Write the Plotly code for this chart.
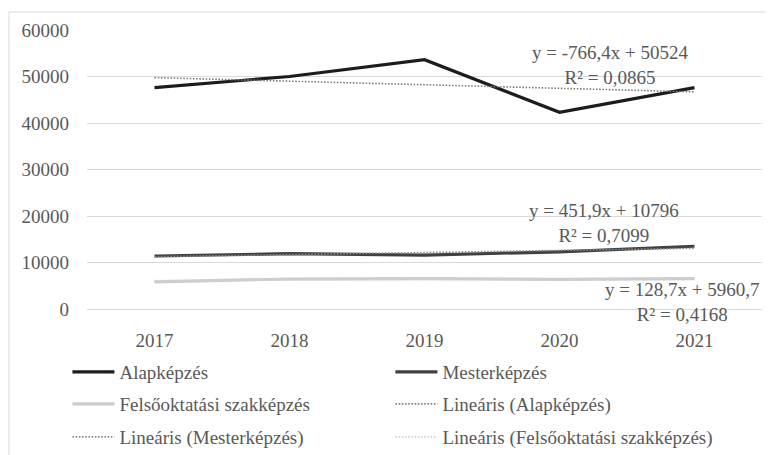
import plotly.graph_objects as go

years = ["2017", "2018", "2019", "2020", "2021"]
alap = [47600, 50000, 53600, 42300, 47600]
mester = [11400, 11900, 11600, 12300, 13500]
felso = [5850, 6450, 6550, 6350, 6550]

# Excel linear trend coefficients (as displayed on the chart)
trend_slope = [-766.4, 451.9, 128.7]
trend_icpt = [50524, 10796, 5960.7]
trend_r2 = ["0,0865", "0,7099", "0,4168"]
trend_eq = ["y = -766,4x + 50524", "y = 451,9x + 10796", "y = 128,7x + 5960,7"]

names = ["Alapképzés", "Mesterképzés", "Felsőoktatási szakképzés"]
series = [alap, mester, felso]
colors = ["#1c1c1c", "#404040", "#cccccc"]
trend_colors = ["#808080", "#8c8c8c", "#d0d0d0"]

FONT = "Liberation Serif"
TXT = "#595959"
FS = 19

fig = go.Figure()
idx = list(range(1, len(years) + 1))

data_leg = ["legend", "legend", "legend2"]
trend_leg = ["legend2", "legend3", "legend3"]

for i in range(3):
    fig.add_trace(go.Scatter(
        x=years, y=series[i], mode="lines", name=names[i],
        line=dict(color=colors[i], width=3.2), legend=data_leg[i],
    ))
for i in range(3):
    tv = [trend_slope[i] * k + trend_icpt[i] for k in idx]
    fig.add_trace(go.Scatter(
        x=years, y=tv, mode="lines", name="Lineáris (" + names[i] + ")",
        line=dict(color=trend_colors[i], width=1.6, dash="1.6px,1.6px"), legend=trend_leg[i],
    ))

ann_pos = [(3.378, 52581), (3.326, 18495), (3.91, 1613)]
for i in range(3):
    fig.add_annotation(
        x=ann_pos[i][0], y=ann_pos[i][1], xref="x", yref="y",
        text=trend_eq[i] + "<br>R² = " + trend_r2[i],
        showarrow=False, align="center", xanchor="center", yanchor="middle",
        font=dict(family=FONT, size=FS, color=TXT),
    )

leg_common = dict(
    orientation="h", xanchor="left", yanchor="middle",
    font=dict(family=FONT, size=FS, color=TXT),
    entrywidth=266, entrywidthmode="pixels", itemwidth=42,
    bgcolor="rgba(0,0,0,0)", traceorder="normal",
)
lx = -0.029
fig.update_layout(
    legend=dict(x=lx, y=(309 - 372) / 279, **leg_common),
    legend2=dict(x=lx, y=(309 - 404) / 279, **leg_common),
    legend3=dict(x=lx, y=(309 - 437) / 279, **leg_common),
)

fig.add_shape(type="rect", xref="paper", yref="paper",
              x0=(9 - 87) / 675, x1=(773 - 87) / 675,
              y0=(309 - 470) / 279, y1=(309 - 12) / 279,
              line=dict(color="#d9d9d9", width=1), layer="below")

# page body has an 8px default margin: figure is 766x447 placed at (8,8)
fig.update_layout(
    width=766, height=447,
    margin=dict(l=79, r=12, t=22, b=146, autoexpand=False),
    paper_bgcolor="white", plot_bgcolor="white",
    font=dict(family=FONT, size=FS, color=TXT),
    showlegend=True,
    xaxis=dict(type="category", range=[-0.5, 4.5], showgrid=False,
               showline=True, linecolor="#d9d9d9", linewidth=1,
               ticks="", tickfont=dict(family=FONT, size=FS, color=TXT),
               ticklabelstandoff=14, automargin=False),
    yaxis=dict(range=[0, 60000], tickvals=[0, 10000, 20000, 30000, 40000, 50000, 60000],
               ticktext=["0", "10000", "20000", "30000", "40000", "50000", "60000"],
               showgrid=True, gridcolor="#d9d9d9", gridwidth=1,
               zeroline=False, showline=False, ticks="",
               tickfont=dict(family=FONT, size=FS, color=TXT),
               ticklabelstandoff=17, automargin=False),
)

fig.write_html("out.html")
